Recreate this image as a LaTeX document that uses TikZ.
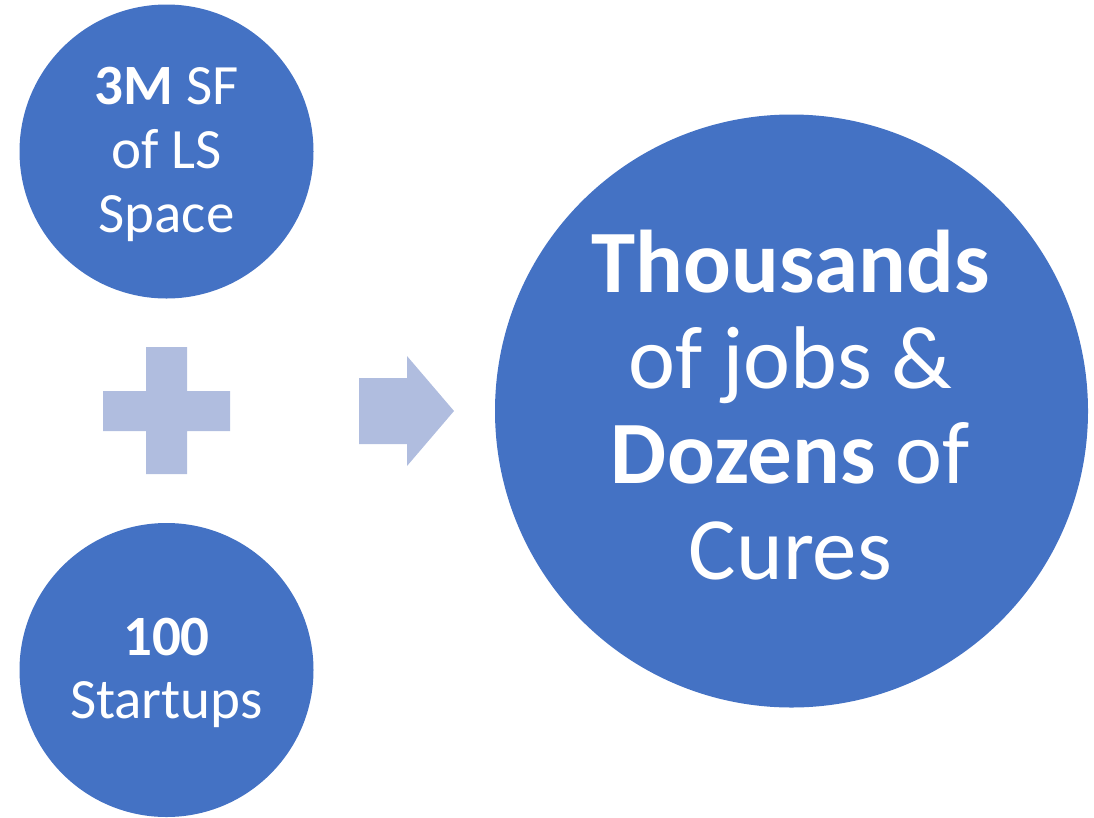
\documentclass[tikz,border=0pt]{standalone}
\usepackage{fontspec}
\setmainfont{Carlito}
\definecolor{circblue}{RGB}{68,114,196}
\definecolor{lightblue}{RGB}{176,189,223}
\begin{document}
\begin{tikzpicture}[x=1pt,y=-1pt,
  bubble/.style={circle,fill=circblue,draw=none,inner sep=0pt},
  smalltext/.style={text=white,align=center,anchor=base,inner sep=0pt,font=\fontsize{57}{64}\selectfont},
  bigtext/.style={text=white,align=center,anchor=base,inner sep=0pt,font=\fontsize{89}{95.5}\selectfont},
  sign/.style={fill=lightblue,draw=none}]
\useasboundingbox (0,0) rectangle (1094,817);
% circles
\node[bubble,minimum size=294pt] (space) at (166.5,151.5) {};
\node[bubble,minimum size=294pt] (startups) at (166.5,670) {};
\node[bubble,minimum size=593pt] (result) at (791.5,411) {};
% plus sign
\fill[sign] (146,347) -- (187,347) -- (187,391) -- (230,391) -- (230,431)
  -- (187,431) -- (187,474) -- (146,474) -- (146,431) -- (103,431)
  -- (103,391) -- (146,391) -- cycle;
% arrow
\fill[sign] (359,378) -- (407,378) -- (407,356) -- (454,411) -- (407,466)
  -- (407,444) -- (359,444) -- cycle;
% texts (anchor = baseline of last line)
\node[smalltext] (t1) at (166.5,232) {\textbf{3M} SF\\of LS\\Space};
\node[smalltext,font=\fontsize{57}{63}\selectfont] (t2) at (166.5,718) {\textbf{100}\\Startups};
\node[bigtext] (t3) at (790.5,579) {\textbf{Thousands}\\of jobs \&\\\textbf{Dozens} of\\Cures};
\end{tikzpicture}
\end{document}
